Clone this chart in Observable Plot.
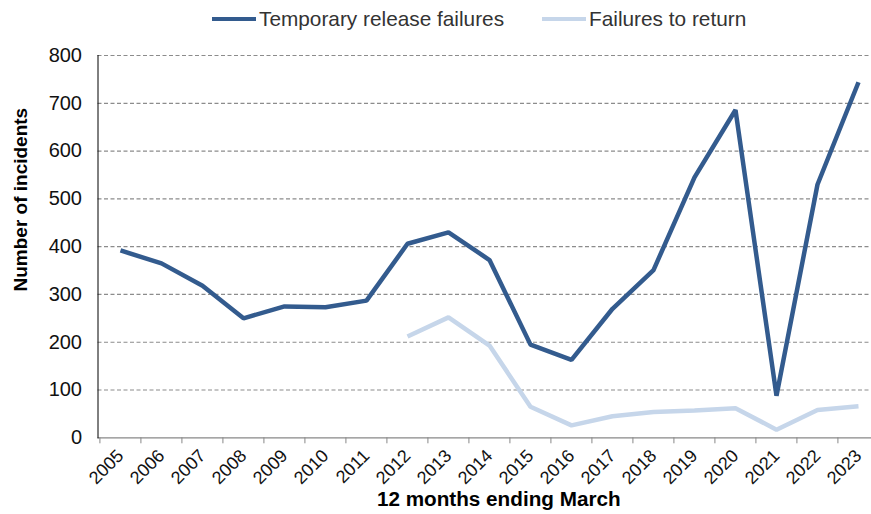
<!DOCTYPE html>
<html>
<head>
<meta charset="utf-8">
<script src="https://cdn.jsdelivr.net/npm/d3@7"></script>
<script src="https://cdn.jsdelivr.net/npm/@observablehq/plot@0.6"></script>
<style>
  body { margin: 0; background: #fff; font-family: "Liberation Sans", Arial, sans-serif; }
  #legend { height: 38px; display: flex; align-items: center; padding-left: 212px; font-size: 20.8px; color: #333; }
  .item { display: flex; align-items: center; }
  .sw { width: 44px; height: 4.5px; margin-right: 3px; }
</style>
</head>
<body>
<div id="legend"></div>
<div id="chart"></div>
<script>
const years = ["2005","2006","2007","2008","2009","2010","2011","2012","2013","2014","2015","2016","2017","2018","2019","2020","2021","2022","2023"];
const temporaryReleaseFailures = [392,365,318,250,275,273,287,406,430,372,195,163,270,351,545,686,88,530,744];
const failuresToReturn = [null,null,null,null,null,null,null,212,252,193,65,26,45,54,57,62,17,58,66];
const seriesNames = ["Temporary release failures", "Failures to return"];
const seriesColors = ["#335B8E", "#C6D6EA"];
const yTicks = [0,100,200,300,400,500,600,700,800];

const rows = [];
years.forEach((y, i) => {
  rows.push({year: y, series: seriesNames[0], value: temporaryReleaseFailures[i]});
  rows.push({year: y, series: seriesNames[1], value: failuresToReturn[i]});
});

// legend
const leg = document.getElementById("legend");
seriesNames.forEach((n, i) => {
  const it = document.createElement("div");
  it.className = "item";
  if (i > 0) it.style.marginLeft = "38px";
  it.innerHTML = `<div class="sw" style="background:${seriesColors[i]}"></div><span>${n}</span>`;
  leg.appendChild(it);
});

const W = 871, H = 476;
const xRange = [97.5, 880];
const step = (xRange[1] - xRange[0]) / years.length;

const chart = Plot.plot({
  width: W,
  height: H,
  marginLeft: 97.5,
  marginRight: 0,
  marginTop: 17,
  marginBottom: 76.7,
  style: {fontFamily: "'Liberation Sans', Arial, sans-serif", color: "#111", background: "#fff"},
  x: {type: "point", domain: years, range: xRange, padding: 0.5},
  y: {domain: [0, 800]},
  marks: [
    Plot.gridY(yTicks.filter(d => d > 0), {stroke: "#8c8c8c", strokeOpacity: 1, strokeDasharray: "4,2.5", strokeWidth: 1.2}),
    Plot.axisY(yTicks, {tickSize: 0, tickPadding: 16, fontSize: 20, label: null}),
    Plot.axisX({tickSize: 0, tickRotate: -45, fontSize: 18, tickPadding: 15, label: null, dx: 0}),
    Plot.axisX({tickSize: 6, tickFormat: () => "", dx: -step / 2, stroke: "#888", label: null}),
    Plot.ruleY([0], {stroke: "#888", strokeWidth: 1.3}),
    Plot.frame({anchor: "left", stroke: "#000"}),
    Plot.line(rows, {x: "year", y: "value", z: "series", stroke: "series", strokeWidth: 4.5, strokeLinejoin: "miter", strokeLinecap: "butt"}),
    Plot.text(["Number of incidents"], {frameAnchor: "left", textAnchor: "middle", dx: -77, dy: -47, rotate: -90, fontSize: 19, fontWeight: "bold", fill: "#000"}),
    Plot.text(["12 months ending March"], {frameAnchor: "bottom", textAnchor: "middle", dy: 68, dx: 14, fontSize: 20.7, fontWeight: "bold", fill: "#000"})
  ],
  color: {domain: seriesNames, range: seriesColors}
});
document.getElementById("chart").appendChild(chart);
</script>
</body>
</html>
